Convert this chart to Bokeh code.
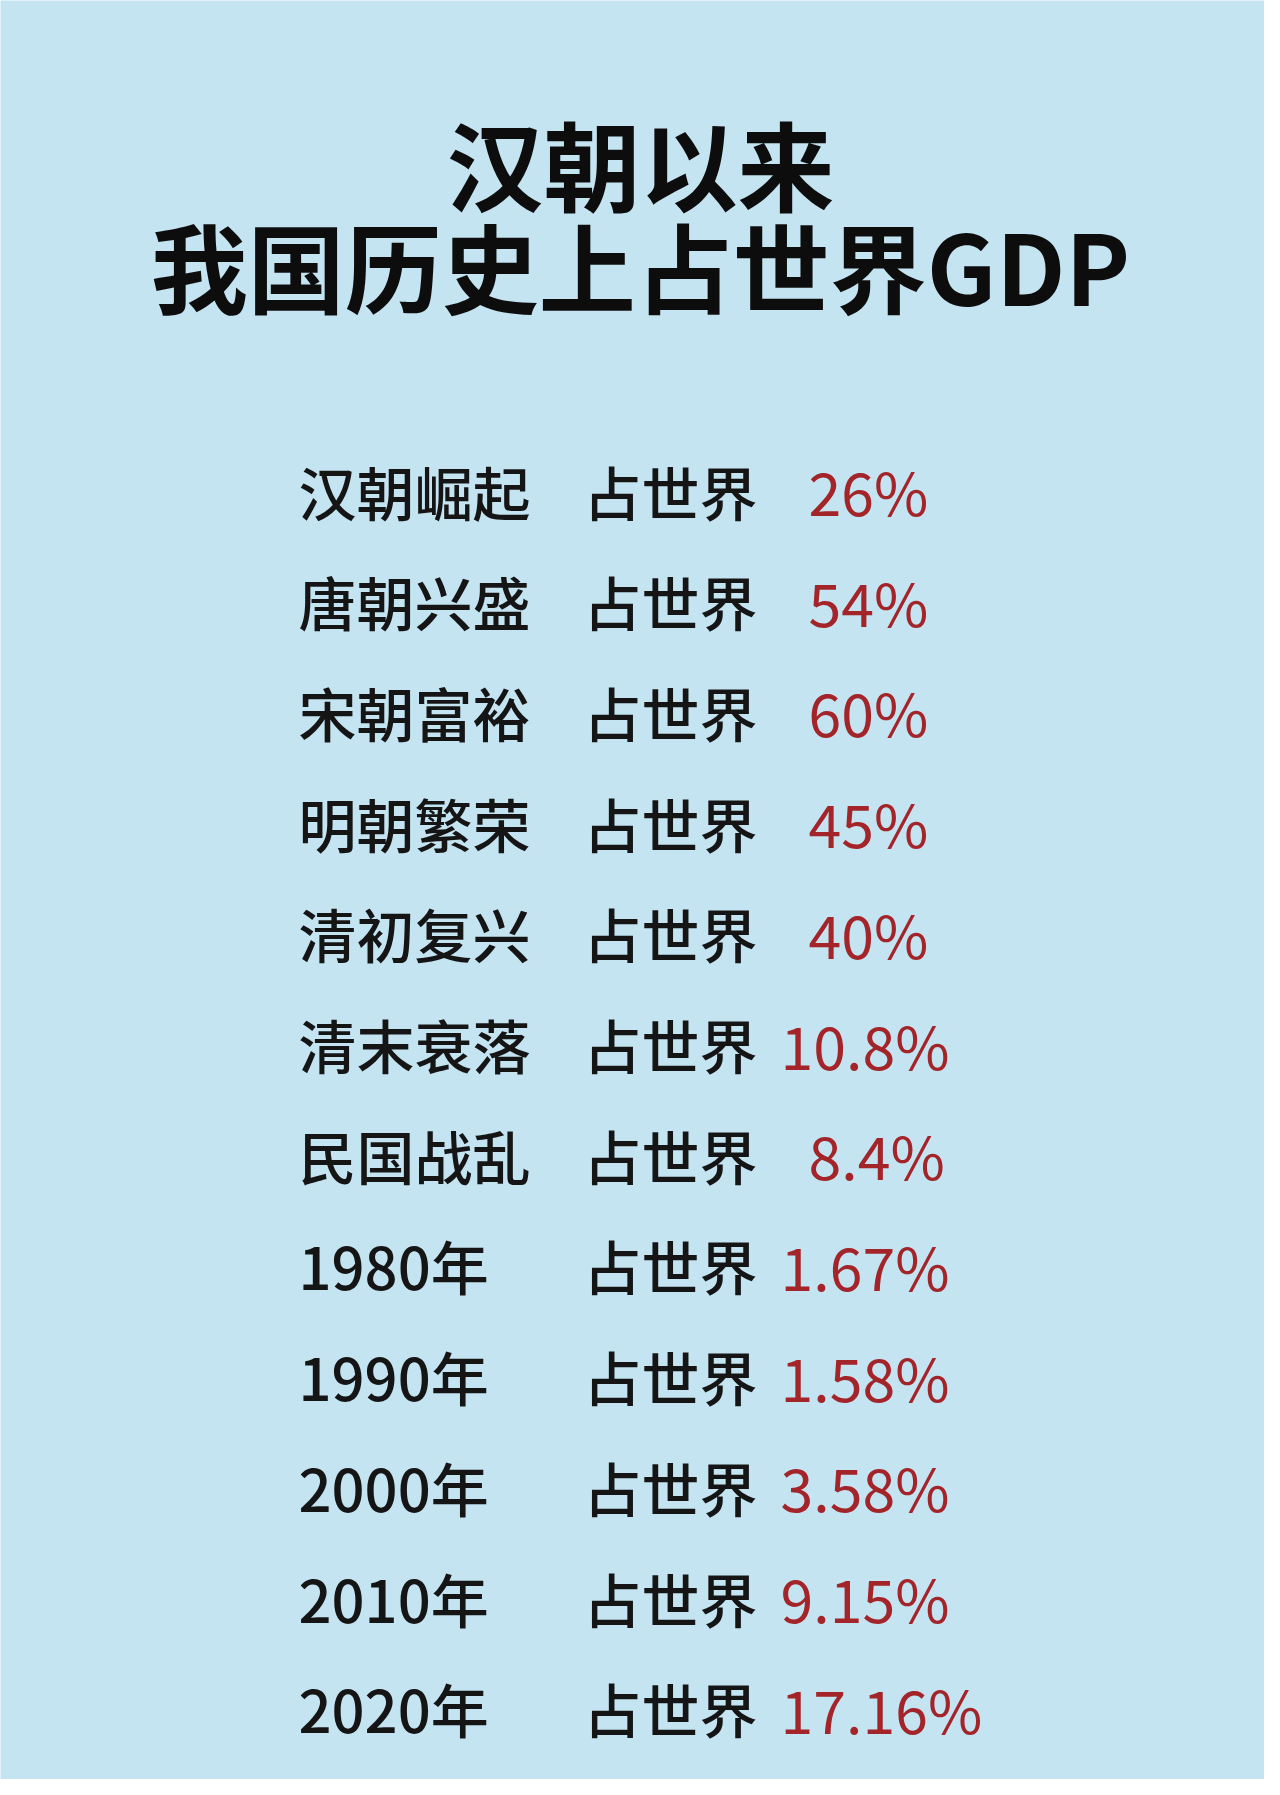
from bokeh.plotting import figure
from bokeh.models import Range1d, ColumnDataSource
from bokeh.core.properties import value
from bokeh.embed import file_html
from bokeh.resources import INLINE

# ---- data ----
title_lines = ["汉朝以来", "我国历史上占世界GDP"]
periods = ["汉朝崛起", "唐朝兴盛", "宋朝富裕", "明朝繁荣", "清初复兴", "清末衰落",
           "民国战乱", "1980年", "1990年", "2000年", "2010年", "2020年"]
middle = ["占世界"] * 12
shares = ["26%", "54%", "60%", "45%", "40%", "10.8%", "8.4%",
          "1.67%", "1.58%", "3.58%", "9.15%", "17.16%"]

BG = "#c5e4f2"
INK = "#151515"
RED = "#a3252a"
FONT = "Noto Sans CJK SC"
FONT_MED = "'Noto Sans CJK SC Medium', 'Noto Sans CJK SC'"

W, H = 1264, 1779
p = figure(width=W, height=H, output_backend="svg", toolbar_location=None,
           x_range=Range1d(8, 8 + W), y_range=Range1d(8 + H, 8),
           min_border=0, outline_line_color=None,
           background_fill_color=BG, border_fill_color=BG)
p.axis.visible = False
p.grid.visible = False

# title
p.text(x=[648, 648], y=[169, 271], text=title_lines,
       text_font=value(FONT), text_font_style="bold", text_font_size="97px",
       text_align="center", text_baseline="middle", text_color="#0d0d0d")

# rows
n = len(periods)
ys = [498 + i * 110.7 for i in range(n)]
pad = [28 if len(s) < 5 else 0 for s in shares]
src = ColumnDataSource(dict(y=ys, period=periods, mid=middle, share=shares,
                            px=[788 + d for d in pad]))

p.text(x=306, y="y", text="period", source=src,
       text_font=value(FONT_MED), text_font_size="58px",
       text_align="left", text_baseline="middle", text_color=INK)
p.text(x=591, y="y", text="mid", source=src,
       text_font=value(FONT_MED), text_font_size="58px",
       text_align="left", text_baseline="middle", text_color=INK)
p.text(x="px", y="y", text="share", source=src,
       text_font=value(FONT), text_font_size="59px",
       text_align="left", text_baseline="middle", text_color=RED)

open("out.html", "w").write(file_html(p, INLINE))
